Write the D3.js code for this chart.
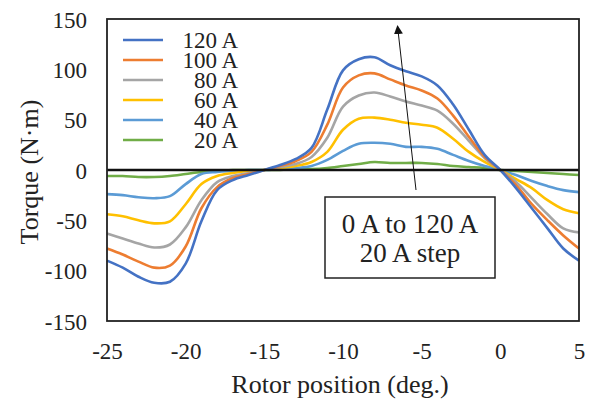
<!DOCTYPE html>
<html><head><meta charset="utf-8">
<script src="https://cdn.jsdelivr.net/npm/d3@7"></script>
<style>body{margin:0;background:#fff}svg{display:block}text{font-family:"Liberation Serif","Times New Roman",serif;fill:#222}</style>
</head><body><svg id="c" width="592" height="403"></svg>
<script>
const positions = [-25,-24,-23,-22,-21,-20,-19,-18,-17,-16,-15,-14,-13,-12,-11,-10,-9,-8,-7,-6,-5,-4,-3,-2,-1,0,1,2,3,4,5];
const seriesNames = ["120 A","100 A","80 A","60 A","40 A","20 A"];
const colors = ["#4472C4","#ED7D31","#A5A5A5","#FFC000","#5B9BD5","#70AD47"];
const t120 = [-90,-97,-106,-112,-111,-93,-51,-20,-10,-5,0,5,11,22,60,99,110,112,104,98,93,84,65,40,15,0,-18,-38,-58,-78,-90];
const t100 = [-78,-84,-91,-97,-95,-76,-38,-17,-8,-4,0,4,9,18,45,82,94,96,90,84,79,71,54,33,13,0,-15,-34,-50,-65,-78];
const t80  = [-63,-68,-73,-77,-74,-57,-30,-12,-6,-3,0,3,6,13,32,63,74,77,73,68,64,59,46,29,12,0,-12,-28,-44,-58,-62];
const t60  = [-44,-46,-50,-53,-51,-34,-14,-6,-3,-1,0,2,4,8,18,40,51,52,50,47,45,42,31,18,8,0,-9,-18,-30,-39,-43];
const t40  = [-24,-25,-27,-28,-26,-14,-4,-2,-1,0,0,1,2,4,10,19,26,27,26,23,23,21,15,9,4,0,-5,-11,-16,-20,-22];
const t20  = [-6,-6,-7,-7,-6,-4,-2,-1,0,0,0,0,1,1,2,4,6,8,7,7,7,6,4,3,2,0,-1,-2,-3,-4,-5];
const xTicks = [-25,-20,-15,-10,-5,0,5];
const yTicks = [150,100,50,0,-50,-100,-150];
const xTitle = "Rotor position (deg.)";
const yTitle = "Torque (N·m)";
const noteLines = ["0 A to 120 A","20 A step"];

const series = [t120,t100,t80,t60,t40,t20];
const svg = d3.select("#c");
const L=107,R=579,T=19,B=321;
const x = d3.scaleLinear().domain([-25,5]).range([L,R]);
const y = d3.scaleLinear().domain([-150,150]).range([B,T]);
const fmt = d => d<0 ? "-"+Math.abs(d) : String(d);

// series lines
const line = d3.line().x((d,i)=>x(positions[i])).y(d=>y(d)).curve(d3.curveCatmullRom.alpha(0.5));
const g = svg.append("g");
series.slice().reverse().forEach((s,ri)=>{
  const i = series.length-1-ri;
  g.append("path").attr("d",line(s)).attr("fill","none").attr("stroke",colors[i]).attr("stroke-width",2.6);
});
// zero line
svg.append("line").attr("x1",L).attr("x2",R).attr("y1",y(0)).attr("y2",y(0)).attr("stroke","#111").attr("stroke-width",2.4);
// frame
svg.append("rect").attr("x",L).attr("y",T).attr("width",R-L).attr("height",B-T).attr("fill","none").attr("stroke","#222").attr("stroke-width",1.8);

// axes labels (ticks)
const yAxis = d3.axisLeft(y).tickValues(yTicks).tickSize(0).tickPadding(20).tickFormat(fmt);
const ya = svg.append("g").attr("transform",`translate(${L},0)`).call(yAxis);
ya.select(".domain").remove();
ya.selectAll("text").attr("font-size",23).attr("font-family","Liberation Serif").attr("fill","#222").attr("dy","0.35em");
const xAxis = d3.axisBottom(x).tickValues(xTicks).tickSize(0).tickPadding(22).tickFormat(fmt);
const xa = svg.append("g").attr("transform",`translate(0,${B})`).call(xAxis);
xa.select(".domain").remove();
xa.selectAll("text").attr("font-size",23).attr("font-family","Liberation Serif").attr("fill","#222");

// titles
svg.append("text").attr("x",340).attr("y",393).attr("text-anchor","middle").attr("font-size",26).text(xTitle);
svg.append("text").attr("transform","translate(38,172) rotate(-90)").attr("text-anchor","middle").attr("font-size",26).text(yTitle);

// legend
const leg = svg.append("g");
seriesNames.forEach((n,i)=>{
  const yy = 40 + i*20;
  leg.append("line").attr("x1",123).attr("x2",163).attr("y1",yy).attr("y2",yy).attr("stroke",colors[i]).attr("stroke-width",2.6);
  leg.append("text").attr("x",238).attr("y",yy+8).attr("text-anchor","end").attr("font-size",23).text(n);
});

// arrow
svg.append("defs").append("marker").attr("id","ah").attr("viewBox","0 0 10 10").attr("refX",9).attr("refY",5)
  .attr("markerWidth",9).attr("markerHeight",9).attr("markerUnits","userSpaceOnUse").attr("orient","auto")
  .append("path").attr("d","M0,0L10,5L0,10Z").attr("fill","#111");
svg.append("line").attr("x1",416).attr("y1",190).attr("x2",397.5).attr("y2",26).attr("stroke","#111").attr("stroke-width",1).attr("marker-end","url(#ah)");

// note box
svg.append("rect").attr("x",325).attr("y",197).attr("width",170).attr("height",81).attr("fill","#fff").attr("stroke","#222").attr("stroke-width",1.5);
noteLines.forEach((t,i)=>{
  svg.append("text").attr("x",410).attr("y",233+i*29).attr("text-anchor","middle").attr("font-size",27).text(t);
});
</script></body></html>
